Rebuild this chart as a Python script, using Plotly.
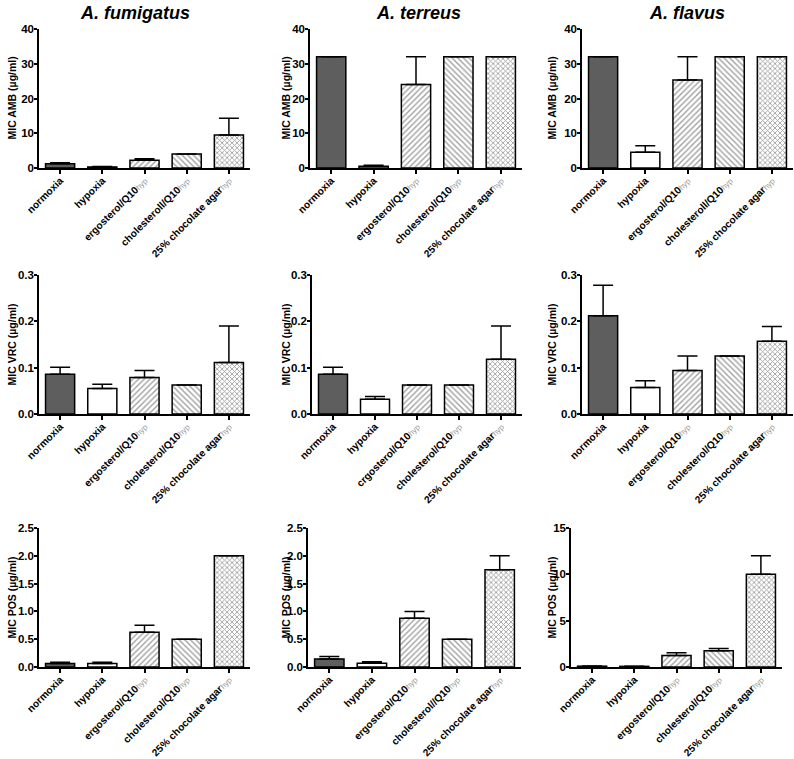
import plotly.graph_objects as go

W, H = 794, 759

species = ["A. fumigatus", "A. terreus", "A. flavus"]
drug_titles = ["MIC AMB (µg/ml)", "MIC VRC (µg/ml)", "MIC POS (µg/ml)"]

HYP = "<span style='font-size:8px;font-weight:normal;color:#9a9a9a'>hyp</span>"

# tick labels per panel (row-major), as printed in the figure
labels = {
    (0, 0): ["normoxia", "hypoxia", "ergosterol/Q10" + HYP, "cholesteroll/Q10" + HYP, "25% chocolate agar" + HYP],
    (0, 1): ["normoxia", "hypoxia", "ergosterol/Q10" + HYP, "cholesterol/Q10" + HYP, "25% chocolate agar" + HYP],
    (0, 2): ["normoxia", "hypoxia", "ergosterol/Q10" + HYP, "cholesteroll/Q10" + HYP, "25% chocolate agar" + HYP],
    (1, 0): ["normoxia", "hypoxia", "ergosterol/Q10" + HYP, "cholesterol/Q10" + HYP, "25% chocolate agar" + HYP],
    (1, 1): ["normoxia", "hypoxia", "crgosterol/Q10" + HYP, "cholesterol/Q10" + HYP, "25% chocolate agar" + HYP],
    (1, 2): ["normoxia", "hypoxia", "ergosterol/Q10" + HYP, "cholesterol/Q10" + HYP, "25% chocolate agar" + HYP],
    (2, 0): ["normoxia", "hypoxia", "ergosterol/Q10" + HYP, "cholesterol/Q10" + HYP, "25% chocolate agar" + HYP],
    (2, 1): ["normoxia", "hypoxia", "ergosterol/Q10" + HYP, "cholesterol//Q10" + HYP, "25% chocolate agar" + HYP],
    (2, 2): ["normoxia", "hypoxia", "ergosterol/Q10" + HYP, "cholesterol/Q10" + HYP, "25% chocolate agar" + HYP],
}

# MIC values (mean) and upper error (SD)
amb_fumigatus = [1.2, 0.3, 2.25, 4.0, 9.5]
amb_fumigatus_sd = [0.3, 0.1, 0.4, 0.0, 4.8]
amb_terreus = [32, 0.5, 24, 32, 32]
amb_terreus_sd = [0, 0.3, 8, 0, 0]
amb_flavus = [32, 4.5, 25.3, 32, 32]
amb_flavus_sd = [0, 1.9, 6.7, 0, 0]

vrc_fumigatus = [0.086, 0.055, 0.079, 0.0625, 0.111]
vrc_fumigatus_sd = [0.015, 0.009, 0.015, 0.0, 0.079]
vrc_terreus = [0.086, 0.032, 0.0625, 0.0625, 0.118]
vrc_terreus_sd = [0.015, 0.006, 0.0, 0.0, 0.072]
vrc_flavus = [0.212, 0.057, 0.094, 0.125, 0.157]
vrc_flavus_sd = [0.066, 0.015, 0.031, 0.0, 0.032]

pos_fumigatus = [0.0625, 0.0625, 0.625, 0.5, 2.0]
pos_fumigatus_sd = [0.025, 0.025, 0.125, 0.0, 0.0]
pos_terreus = [0.146, 0.068, 0.875, 0.5, 1.75]
pos_terreus_sd = [0.045, 0.025, 0.125, 0.0, 0.25]
pos_flavus = [0.09, 0.07, 1.25, 1.75, 10.0]
pos_flavus_sd = [0.02, 0.01, 0.3, 0.25, 2.0]

values = [
    [(amb_fumigatus, amb_fumigatus_sd), (amb_terreus, amb_terreus_sd), (amb_flavus, amb_flavus_sd)],
    [(vrc_fumigatus, vrc_fumigatus_sd), (vrc_terreus, vrc_terreus_sd), (vrc_flavus, vrc_flavus_sd)],
    [(pos_fumigatus, pos_fumigatus_sd), (pos_terreus, pos_terreus_sd), (pos_flavus, pos_flavus_sd)],
]

y_ranges = [[[0, 40]] * 3, [[0, 0.3]] * 3, [[0, 2.5], [0, 2.5], [0, 15]]]
y_dticks = [[10] * 3, [0.1] * 3, [0.5, 0.5, 5]]
y_formats = [[",d"] * 3, [".1f"] * 3, [".1f", ".1f", ",d"]]

# layout (pixels)
row_y = [(29, 168), (275, 414), (528, 667)]
col_x = [
    [(39, 250), (310, 522), (582, 793)],
    [(39, 250), (312, 522), (582, 793)],
    [(39, 250), (308, 521), (571, 782)],
]
ytitle_x = [[11, 285, 551], [11, 285, 551], [11, 285, 551]]
title_x = [135, 418, 687]

fills = ["#5e5e5e", "white", "white", "white", "white"]
shapes = ["", "", "/", "\\", "x"]

FONT = "Liberation Sans, Arial, sans-serif"

fig = go.Figure()
annotations = []
idx = 0
for r in range(3):
    for c in range(3):
        idx += 1
        xa = "x" if idx == 1 else f"x{idx}"
        ya = "y" if idx == 1 else f"y{idx}"
        vals, sd = values[r][c]
        cats = labels[(r, c)]
        fig.add_trace(go.Bar(
            x=cats, y=vals, xaxis=xa, yaxis=ya, width=0.69,
            marker=dict(color=fills, line=dict(color="black", width=1.5),
                        pattern=dict(shape=shapes, fgcolor="#2a2a2a",
                                     size=[4, 4, 4, 4, 3.5],
                                     solidity=[0.35, 0.35, 0.35, 0.35, 0.45])),
            error_y=dict(type="data", symmetric=False, array=sd, arrayminus=[0] * 5,
                         color="black", thickness=1.5, width=10),
            showlegend=False, hoverinfo="skip",
        ))
        x0, x1 = col_x[r][c]
        yt, yb = row_y[r]
        xkey = "xaxis" if idx == 1 else f"xaxis{idx}"
        ykey = "yaxis" if idx == 1 else f"yaxis{idx}"
        fig.update_layout(**{
            xkey: dict(domain=[x0 / W, x1 / W], anchor=ya, range=[-0.5, 4.5],
                       showline=True, linecolor="black", linewidth=1.5,
                       ticks="outside", ticklen=4, tickwidth=1.5, tickcolor="black",
                       ticklabelstandoff=-3,
                       tickangle=-45, showgrid=False, zeroline=False, automargin=False,
                       tickfont=dict(family=FONT, size=10.2, color="black", weight="bold")),
            ykey: dict(domain=[1 - yb / H, 1 - yt / H], anchor=xa, range=y_ranges[r][c],
                       dtick=y_dticks[r][c], tickformat=y_formats[r][c],
                       showline=True, linecolor="black", linewidth=1.5,
                       ticks="outside", ticklen=3, tickwidth=1.5, tickcolor="black",
                       ticklabelstandoff=-2,
                       showgrid=False, zeroline=False, automargin=False,
                       tickfont=dict(family=FONT, size=11.5, color="black", weight="bold")),
        })
        annotations.append(dict(
            text=drug_titles[r], xref="paper", yref="paper",
            x=ytitle_x[r][c] / W, y=1 - ((yt + yb) / 2) / H,
            xanchor="center", yanchor="middle", textangle=-90, showarrow=False,
            font=dict(family=FONT, size=10.5, color="black", weight="bold"),
        ))

for c in range(3):
    annotations.append(dict(
        text="<b><i>" + species[c] + "</i></b>", xref="paper", yref="paper",
        x=title_x[c] / W, y=1 - 13 / H, xanchor="center", yanchor="middle",
        showarrow=False, font=dict(family=FONT, size=18, color="black"),
    ))

fig.update_layout(
    width=W, height=H, margin=dict(l=0, r=0, t=0, b=0),
    plot_bgcolor="white", paper_bgcolor="white",
    annotations=annotations, bargap=0.3,
)

fig.write_html(
    "out.html",
    config={"displayModeBar": False},
    post_script="document.body.style.margin='0';document.body.style.overflow='hidden';",
)
